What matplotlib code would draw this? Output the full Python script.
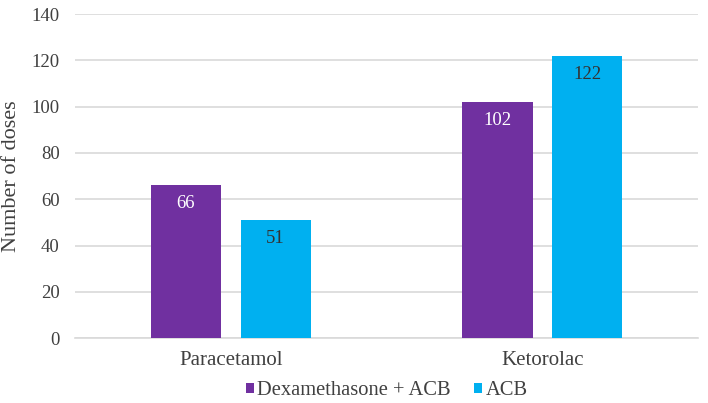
import numpy as np
import matplotlib.pyplot as plt

# =========================
# Data
# =========================

CATEGORIES = ["Paracetamol", "Ketorolac"]
SERIES = ["Dexamethasone + ACB", "ACB"]
DEXA_ACB = [66, 102]
ACB = [51, 122]
Y_TICKS = [0, 20, 40, 60, 80, 100, 120, 140]

COLORS = ["#7030A0", "#00B0F0"]
LABEL_COLORS = ["white", "#333333"]
TEXT = "#404040"

plt.rcParams["font.family"] = ["Liberation Serif", "DejaVu Serif"]

fig = plt.figure(figsize=(7.08, 4.03), dpi=100)
ax = fig.add_axes([0.106, 0.161, 0.880, 0.804])

x = np.arange(len(CATEGORIES))
width = 0.225
offset = 0.144

for i, (vals, name) in enumerate(zip([DEXA_ACB, ACB], SERIES)):
    pos = x + (offset if i else -offset)
    bars = ax.bar(pos, vals, width, color=COLORS[i], label=name, zorder=3)
    # value labels inside the top of each bar
    for b, v in zip(bars, vals):
        ax.text(b.get_x() + b.get_width() / 2, v - 8, str(v),
                ha="center", va="center", fontsize=13.5,
                color=LABEL_COLORS[i], zorder=4)

ax.set_xlim(-0.5, 1.5)
ax.set_ylim(0, 140)
ax.set_yticks(Y_TICKS)
ax.set_xticks(x)
ax.set_xticklabels(CATEGORIES)
ax.tick_params(axis="both", length=0, colors=TEXT)
ax.tick_params(axis="y", pad=11, labelsize=13.5)
ax.tick_params(axis="x", pad=9, labelsize=15)
ax.grid(axis="y", color="#d9d9d9", linewidth=1.2, zorder=0)
for s in ["top", "right", "left"]:
    ax.spines[s].set_visible(False)
ax.spines["bottom"].set_color("#d9d9d9")
ax.spines["bottom"].set_linewidth(1.2)

ax.set_ylabel("Number of doses", fontsize=16, color=TEXT, labelpad=8)

fig.legend(loc="center", bbox_to_anchor=(0.546, 0.03), ncol=2,
           frameon=False, fontsize=14.8, handlelength=0.42, handleheight=0.42,
           handletextpad=0.15, columnspacing=1.1, borderpad=0,
           labelcolor=TEXT)

fig.savefig("out.png", dpi=100)
